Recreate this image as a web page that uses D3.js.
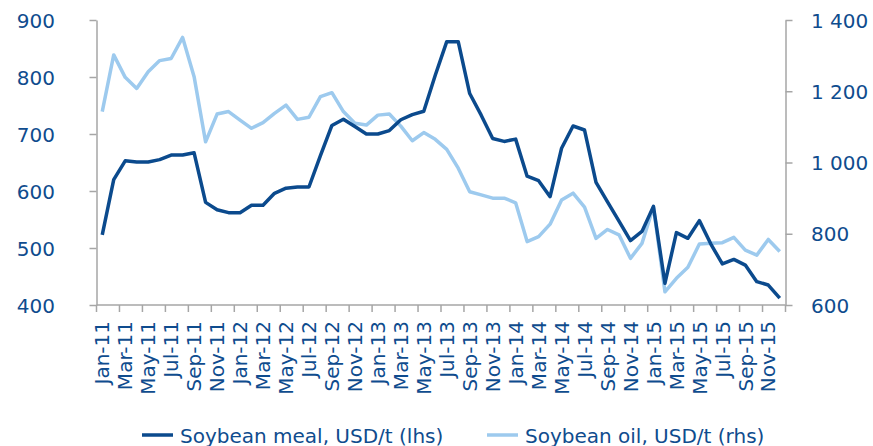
<!DOCTYPE html>
<html>
<head>
<meta charset="utf-8">
<title>Soybean meal and oil prices</title>
<style>
  body { margin: 0; background: #fff; }
  text { font-family: "DejaVu Sans", sans-serif; fill: #0f4c8e; }
</style>
</head>
<body>
<svg width="873" height="446"></svg>
<script src="https://cdn.jsdelivr.net/npm/d3@7"></script>
<script>

// monthly categories, Jan-11 .. Dec-15
var months = [
  "Jan-11","Feb-11","Mar-11","Apr-11","May-11","Jun-11","Jul-11","Aug-11","Sep-11","Oct-11","Nov-11","Dec-11",
  "Jan-12","Feb-12","Mar-12","Apr-12","May-12","Jun-12","Jul-12","Aug-12","Sep-12","Oct-12","Nov-12","Dec-12",
  "Jan-13","Feb-13","Mar-13","Apr-13","May-13","Jun-13","Jul-13","Aug-13","Sep-13","Oct-13","Nov-13","Dec-13",
  "Jan-14","Feb-14","Mar-14","Apr-14","May-14","Jun-14","Jul-14","Aug-14","Sep-14","Oct-14","Nov-14","Dec-14",
  "Jan-15","Feb-15","Mar-15","Apr-15","May-15","Jun-15","Jul-15","Aug-15","Sep-15","Oct-15","Nov-15","Dec-15"
];

// soybean meal, USD/t (left axis)
var meal = [
  523, 620, 653, 651, 651, 655, 663, 663, 667, 580, 567, 562,
  562, 575, 575, 596, 605, 607, 607, 662, 715, 726, 713, 700,
  700, 706, 725, 734, 740, 803, 862, 862, 771, 733, 692, 687,
  691, 626, 618, 590, 675, 714, 707, 615, 581, 547, 513, 529,
  573, 438, 527, 517, 548, 507, 472, 480, 470, 441, 435, 412
];

// soybean oil, USD/t (right axis)
var oil = [
  1143, 1302, 1239, 1208, 1255, 1286, 1292, 1351, 1241, 1058, 1136, 1143,
  1119, 1096, 1112, 1138, 1161, 1121, 1127, 1185, 1196, 1143, 1110, 1105,
  1133, 1136, 1102, 1061, 1084, 1065, 1037, 984, 918, 909, 900, 900,
  887, 778, 792, 827, 895, 914, 875, 787, 812, 797, 731, 773,
  876, 637, 675, 706, 771, 773, 775, 790, 754, 740, 784, 750
];

var leftTicks = [400, 500, 600, 700, 800, 900];
var rightTicks = [600, 800, 1000, 1200, 1400];

var series = [
  { name: "Soybean meal, USD/t (lhs)", values: meal, axis: "left", color: "#0b4a8d" },
  { name: "Soybean oil, USD/t (rhs)", values: oil, axis: "right", color: "#9dcaee" }
];

var svg = d3.select("svg");
var plotLeft = 96.5, plotRight = 785.5, plotTop = 20, plotBottom = 305;
var axisColor = "#a6a6a6";

var x = d3.scaleBand().domain(months).range([plotLeft, plotRight]).padding(0);
var yL = d3.scaleLinear().domain([400, 900]).range([plotBottom, plotTop]);
var yR = d3.scaleLinear().domain([600, 1400]).range([plotBottom, plotTop]);

var fmtR = d3.formatLocale({ decimal: ".", thousands: " ", grouping: [3], currency: ["", ""] }).format(",");

// left axis
var gL = svg.append("g").attr("transform", "translate(" + plotLeft + ",0)")
  .call(d3.axisLeft(yL).tickValues(leftTicks).tickSize(7).tickSizeOuter(0).tickFormat(""));
gL.selectAll("line, path").attr("stroke", axisColor).attr("stroke-width", 1.5);
svg.append("g").selectAll("text")
  .data(leftTicks)
  .enter().append("text")
    .attr("x", 55)
    .attr("y", function(d) { return yL(d); })
    .attr("dy", "0.38em")
    .attr("text-anchor", "end")
    .attr("font-size", 20)
    .text(function(d) { return d; });

// right axis
var gR = svg.append("g").attr("transform", "translate(" + plotRight + ",0)")
  .call(d3.axisRight(yR).tickValues(rightTicks).tickSize(7).tickSizeOuter(0).tickFormat(""));
gR.selectAll("line, path").attr("stroke", axisColor).attr("stroke-width", 1.5);
svg.append("g").selectAll("text")
  .data(rightTicks)
  .enter().append("text")
    .attr("x", 811)
    .attr("y", function(d) { return yR(d); })
    .attr("dy", "0.38em")
    .attr("text-anchor", "start")
    .attr("font-size", 20)
    .text(function(d) { return fmtR(d); });

// bottom axis: ticks every two months at category edges
var edges = months.filter(function(d, i) { return i % 2 == 0; }).map(function(d) { return x(d); });
edges.push(plotRight);
svg.append("line")
  .attr("x1", plotLeft).attr("x2", plotRight)
  .attr("y1", plotBottom).attr("y2", plotBottom)
  .attr("stroke", axisColor).attr("stroke-width", 1.5);
svg.append("g").selectAll("line")
  .data(edges)
  .enter().append("line")
    .attr("x1", function(d) { return d; }).attr("x2", function(d) { return d; })
    .attr("y1", plotBottom).attr("y2", plotBottom + 7)
    .attr("stroke", axisColor).attr("stroke-width", 1.5);

svg.append("g").selectAll("text")
  .data(months.filter(function(d, i) { return i % 2 == 0; }))
  .enter().append("text")
    .attr("transform", function(d) {
      return "translate(" + (x(d) + x.bandwidth() / 2) + "," + (plotBottom + 16) + ") rotate(-90)";
    })
    .attr("dy", "0.36em")
    .attr("text-anchor", "end")
    .attr("font-size", 20)
    .text(function(d) { return d; });

// lines (light one drawn first so the dark one sits on top)
var order = [series[1], series[0]];
order.forEach(function(s) {
  var y = s.axis == "left" ? yL : yR;
  var line = d3.line()
    .x(function(d, i) { return x(months[i]) + x.bandwidth() / 2; })
    .y(function(d) { return y(d); });
  svg.append("path")
    .datum(s.values)
    .attr("fill", "none")
    .attr("stroke", s.color)
    .attr("stroke-width", 3.5)
    .attr("stroke-linejoin", "round")
    .attr("d", line);
});

// legend
var legendPos = [142, 487];
var leg = svg.append("g").selectAll("g")
  .data(series)
  .enter().append("g")
    .attr("transform", function(d, i) { return "translate(" + legendPos[i] + ",435)"; });
leg.append("line")
  .attr("x1", 0).attr("x2", 31)
  .attr("stroke", function(d) { return d.color; })
  .attr("stroke-width", 3.5);
leg.append("text")
  .attr("x", 38)
  .attr("y", 8)
  .attr("font-size", 20)
  .text(function(d) { return d.name; });

</script>
</body>
</html>
